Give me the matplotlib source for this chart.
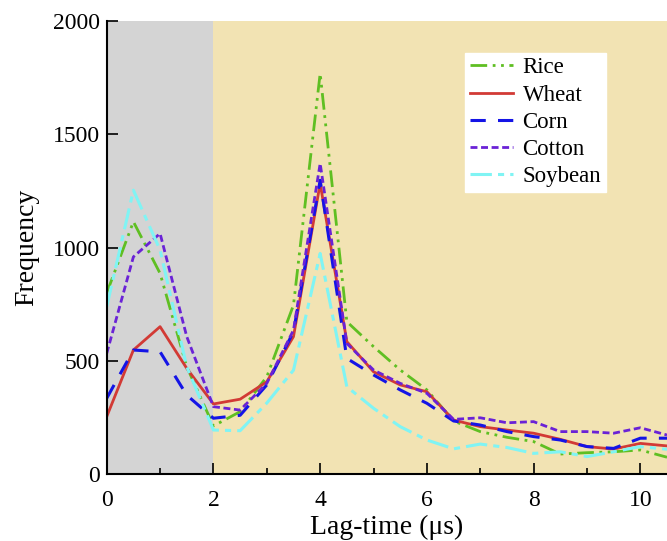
#!/usr/bin/env python3

import matplotlib
matplotlib.use('Agg')
import matplotlib.pyplot as plt
from matplotlib.ticker import MultipleLocator

lag = [0, 0.5, 1, 1.5, 2, 2.5, 3, 3.5, 4, 4.5, 5, 5.5, 6, 6.5,
       7, 7.5, 8, 8.5, 9, 9.5, 10, 10.5]

rice = [800, 1115, 887, 475, 214, 277, 431, 747, 1769, 674, 564, 461, 373, 236,
        189, 164, 145, 90, 96, 100, 108, 76]
wheat = [255, 549, 652, 468, 311, 332, 409, 608, 1284, 586, 453, 395, 365, 240,
         211, 196, 182, 155, 123, 112, 137, 126]
corn = [336, 549, 541, 350, 248, 261, 395, 630, 1298, 512, 439, 373, 314, 236,
        218, 189, 167, 152, 123, 115, 160, 160]
cotton = [534, 960, 1063, 608, 299, 284, 402, 637, 1372, 578, 461, 402, 358, 243,
          250, 228, 233, 189, 189, 182, 206, 174]
soybean = [740, 1254, 990, 475, 196, 193, 315, 460, 975, 387, 292, 211, 152, 113,
           134, 119, 93, 100, 79, 100, 123, 111]

plt.rcParams['font.family'] = ['Liberation Serif', 'DejaVu Serif']

fig = plt.figure(figsize=(6.67, 5.41), dpi=100)
ax = fig.add_axes([0.16, 0.123, 0.84, 0.838])

ax.axvspan(0, 2, color='#d4d4d4', zorder=0, lw=0)
ax.axvspan(2, 10.5, color='#f2e3b3', zorder=0, lw=0)

ax.plot(lag, rice, color='#5fbf22', lw=2, ls=(0, (6, 2, 1, 2, 1, 2)), label='Rice')
ax.plot(lag, wheat, color='#d23a35', lw=2, ls='-', label='Wheat')
ax.plot(lag, corn, color='#1414e6', lw=2.2, ls=(0, (5, 4)), label='Corn')
ax.plot(lag, cotton, color='#6a22d6', lw=2, ls=(0, (2.5, 1.3)), label='Cotton')
ax.plot(lag, soybean, color='#80f4f4', lw=2.2, ls=(0, (7, 2, 2, 2)), label='Soybean')

ax.set_xlim(0, 10.5)
ax.set_ylim(0, 2000)
ax.xaxis.set_major_locator(MultipleLocator(2))
ax.xaxis.set_minor_locator(MultipleLocator(1))
ax.yaxis.set_major_locator(MultipleLocator(500))
ax.tick_params(which='major', direction='in', length=8, width=1.2, labelsize=17)
ax.tick_params(which='minor', direction='in', length=4, width=1.2)
ax.tick_params(axis='x', pad=11)
ax.tick_params(axis='y', pad=5)

for s in ['top', 'right']:
    ax.spines[s].set_visible(False)
for s in ['left', 'bottom']:
    ax.spines[s].set_linewidth(1.5)

ax.set_xlabel('Lag-time (\u03bcs)', fontsize=20, labelpad=3)
ax.set_ylabel('Frequency', fontsize=20, labelpad=10)

leg = ax.legend(loc='upper left', bbox_to_anchor=(0.64, 0.93), fontsize=16.5,
                frameon=True, fancybox=False, framealpha=1, edgecolor='white',
                handlelength=1.9, handletextpad=0.4, labelspacing=0.27,
                borderpad=0.2, borderaxespad=0)

fig.savefig('out.png', dpi=100)
